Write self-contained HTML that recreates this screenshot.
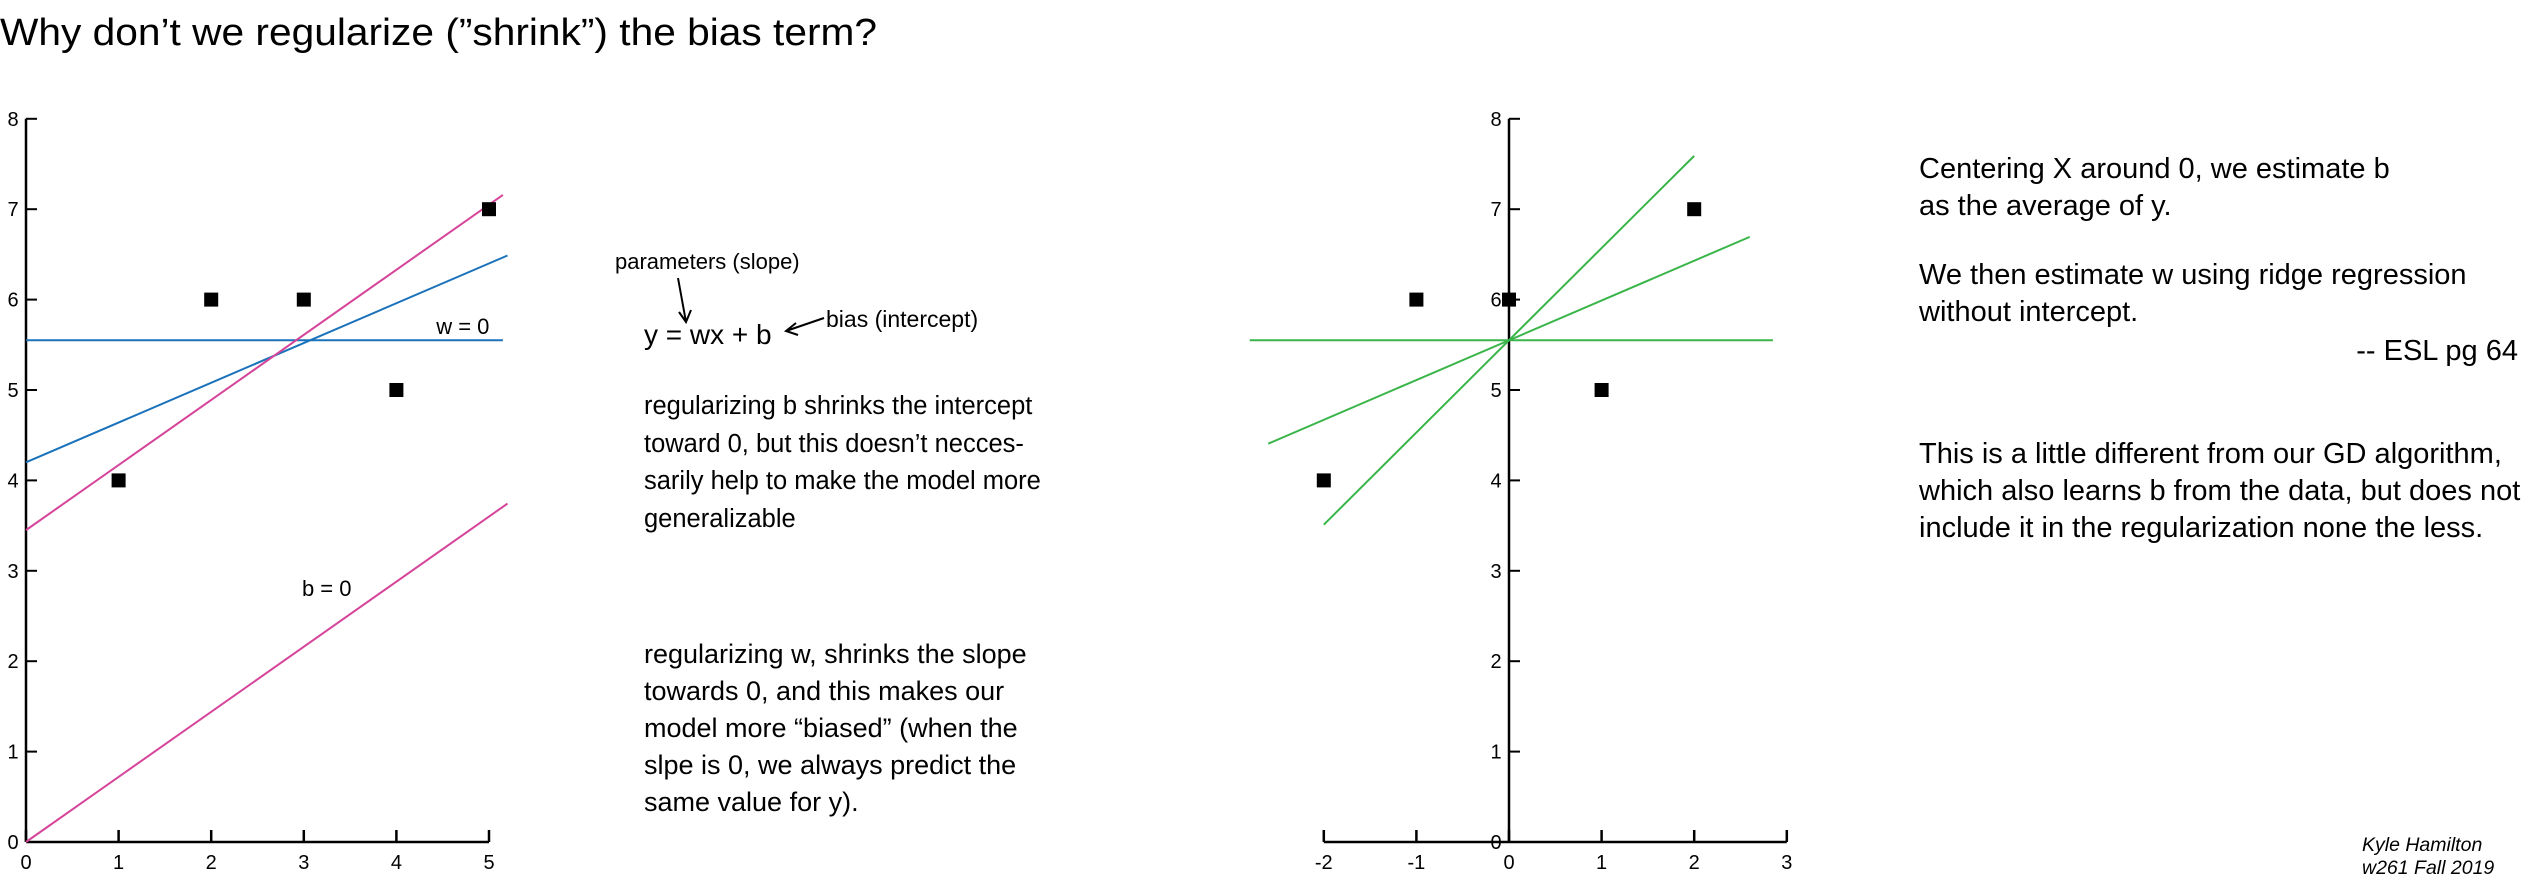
<!DOCTYPE html>
<html><head><meta charset="utf-8"><style>
html,body{margin:0;padding:0;background:#fff;}
svg{display:block;font-family:"Liberation Sans",sans-serif;}
</style></head><body>
<svg id="s" width="2525" height="886" viewBox="0 0 2525 886">
<text x="0" y="45" font-size="38" textLength="877" lengthAdjust="spacingAndGlyphs">Why don’t we regularize (”shrink”) the bias term?</text>
<g font-size="22">
<text x="615" y="269">parameters (slope)</text>
<text x="644" y="344" font-size="28">y = wx + b</text>
<text x="826" y="327" font-size="23">bias (intercept)</text>
<path d="M678 278 L686 322 M679 312 L686 322 L691 310" stroke="#000" stroke-width="2" fill="none"/>
<path d="M824 318 L786 331 M796 323 L786 331 L798 335" stroke="#000" stroke-width="2" fill="none"/>
</g>
<g font-size="25.5">
<text x="644" y="414">regularizing b shrinks the intercept</text>
<text x="644" y="452">toward 0, but this doesn’t necces-</text>
<text x="644" y="489">sarily help to make the model more</text>
<text x="644" y="527">generalizable</text>
</g>
<g font-size="27">
<text x="644" y="663">regularizing w, shrinks the slope</text>
<text x="644" y="700">towards 0, and this makes our</text>
<text x="644" y="737">model more  “biased” (when the</text>
<text x="644" y="774">slpe is 0, we always predict the</text>
<text x="644" y="811">same value for y).</text>
</g>
<g font-size="29">
<text x="1919" y="178">Centering X around 0, we estimate b</text>
<text x="1919" y="215">as the average of y.</text>
<text x="1919" y="284">We then estimate w using ridge regression</text>
<text x="1919" y="321">without intercept.</text>
<text x="2518" y="360" text-anchor="end">-- ESL pg 64</text>
<text x="1919" y="463">This is a little different from our GD algorithm,</text>
<text x="1919" y="500">which also learns b from the data, but does not</text>
<text x="1919" y="537">include it in the regularization none the less.</text>
</g>
<g font-size="19.5" font-style="italic">
<text x="2362" y="851">Kyle Hamilton</text>
<text x="2362" y="874">w261 Fall 2019</text>
</g>
<g id="left"></g>
<g id="right"></g>
</svg>
<script>
const leftXTicks=[0,1,2,3,4,5];
const rightXTicks=[-2,-1,0,1,2,3];
const yTicks=[0,1,2,3,4,5,6,7,8];
const leftPointsX=[1,2,3,4,5];
const leftPointsY=[4,6,6,5,7];
const rightPointsX=[-2,-1,0,1,2];
const rightPointsY=[4,6,6,5,7];
// lines: [x1,x2,intercept,slope]
const leftLinesBlue=[[0,5.15,5.55,0],[0,5.2,4.2,0.44]];
const leftLinesPink=[[0,5.15,3.45,0.72],[0,5.2,0,0.72]];
const rightLinesGreen=[[-2.8,2.85,5.55,0],[-2,2,5.55,1.02],[-2.6,2.6,5.55,0.44]];
const NS='http://www.w3.org/2000/svg';
function mk(p,tag,a){const e=document.createElementNS(NS,tag);for(const k in a)e.setAttribute(k,a[k]);p.appendChild(e);return e;}
function chart(g,x0px,unit,xTicks,xmin,xmax,px,py,lines,yAxisX){
  const X=v=>x0px+(v)*unit, Y=v=>842-v*90.4;
  const ax=mk(g,'path',{d:`M${X(yAxisX)} ${Y(8)} L${X(yAxisX)} ${Y(0)} M${X(xmin)} ${Y(0)} L${X(xmax)} ${Y(0)}`,stroke:'#000','stroke-width':2.5,fill:'none'});
  
  
  yTicks.forEach(t=>{
    const l=mk(g,'line',{x1:X(yAxisX),x2:X(yAxisX)+11,y1:Y(t),y2:Y(t),stroke:'#000','stroke-width':2});
    
    
    const tx=mk(g,'text',{x:X(yAxisX)-13,y:Y(t)+7,'font-size':20,'text-anchor':'middle'});
    tx.textContent=t;
    
    
  });
  xTicks.forEach(t=>{
    const l=mk(g,'line',{x1:X(t),x2:X(t),y1:Y(0),y2:Y(0)-12,stroke:'#000','stroke-width':2.5});
    
    
    const tx=mk(g,'text',{x:X(t),y:Y(0)+27,'font-size':20,'text-anchor':'middle'});
    tx.textContent=t;
    
    
  });
  lines.forEach(([a,b,c,s,col])=>{
    const l=mk(g,'line',{x1:X(a),y1:Y(c+s*a),x2:X(b),y2:Y(c+s*b),stroke:col,'stroke-width':2});
    
    
  });
  px.forEach((v,i)=>{
    const r=mk(g,'rect',{x:X(v)-7,y:Y(py[i])-7,width:14,height:14,fill:'#000'});
    
    
  });
  return [X,Y];
}
const L=document.getElementById('left'),R=document.getElementById('right');
const [LX,LY]=chart(L,26,92.6,leftXTicks,0,5,leftPointsX,leftPointsY,
  leftLinesBlue.map(l=>l.concat('#1a72bb')).concat(leftLinesPink.map(l=>l.concat('#d6449a'))),0);
chart(R,1509,92.6,rightXTicks,-2,3,rightPointsX,rightPointsY,rightLinesGreen.map(l=>l.concat('#3ab54a')),0);
const w=mk(L,'text',{x:LX(4.43),y:LY(5.62),'font-size':22});w.textContent='w = 0';


const b=mk(L,'text',{x:LX(2.98),y:LY(2.72),'font-size':22});b.textContent='b = 0';


</script>
</body></html>
